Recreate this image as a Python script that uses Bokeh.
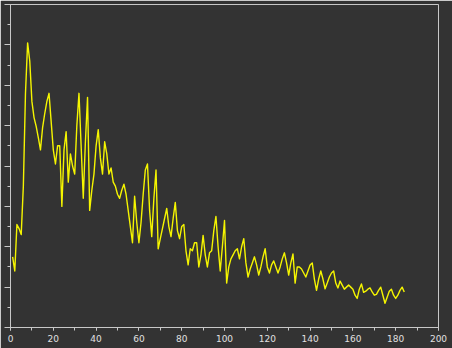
from bokeh.plotting import figure
from bokeh.embed import file_html
from bokeh.resources import INLINE
from bokeh.models import Range1d, SingleIntervalTicker, CustomJSTickFormatter

# sample positions (x) and signal values (y)
xs = list(range(1, 185))
ys = [
    1.75, 1.4, 2.55, 2.45, 2.3, 3.5, 5.8, 7.05, 6.6, 5.6,
    5.2, 4.98, 4.7, 4.4, 4.95, 5.3, 5.6, 5.8, 5.1, 4.4,
    4.05, 4.5, 4.5, 3.0, 4.4, 4.85, 3.6, 4.3, 4.0, 3.8,
    5.0, 5.8, 4.5, 3.2, 4.6, 5.7, 2.9, 3.4, 3.8, 4.5,
    4.9, 4.2, 3.8, 4.6, 4.3, 3.8, 3.95, 3.6, 3.5, 3.3,
    3.2, 3.4, 3.55, 3.3, 2.9, 2.5, 2.1, 3.25, 2.6, 2.1,
    2.6, 3.3, 3.9, 4.05, 2.9, 2.25, 3.2, 3.9, 1.95, 2.2,
    2.45, 2.7, 2.95, 2.5, 2.25, 2.7, 3.1, 2.4, 2.2, 2.5,
    2.55, 1.9, 1.55, 1.95, 1.9, 2.1, 2.1, 1.5, 1.8, 2.28,
    1.8, 1.5, 1.85, 1.9, 2.4, 2.75, 2.0, 1.4, 2.0, 2.65,
    1.1, 1.5, 1.7, 1.8, 1.9, 1.95, 1.7, 2.0, 2.2, 1.6,
    1.25, 1.45, 1.6, 1.75, 1.55, 1.3, 1.5, 1.75, 1.95, 1.5,
    1.35, 1.55, 1.65, 1.5, 1.35, 1.5, 1.7, 1.85, 1.6, 1.3,
    1.6, 1.82, 1.1, 1.5, 1.5, 1.45, 1.35, 1.25, 1.4, 1.55,
    1.6, 1.2, 0.92, 1.2, 1.4, 1.2, 0.96, 1.1, 1.25, 1.35,
    1.4, 1.1, 0.98, 1.15, 1.05, 0.95, 1.0, 1.05, 1.0, 0.95,
    0.8, 0.72, 0.95, 1.08, 0.87, 0.9, 0.95, 0.98, 0.88, 0.8,
    0.82, 0.92, 1.0, 0.8, 0.6, 0.75, 0.9, 0.95, 0.8, 0.72,
    0.8, 0.92, 1.0, 0.88,
]

BG = "#333333"
AX = "#c8c8c8"

p = figure(width=452, height=348, output_backend="svg", toolbar_location=None,
           x_range=Range1d(0, 200), y_range=Range1d(0, 8),
           min_border_left=10, min_border_right=14, min_border_top=4, min_border_bottom=21)
p.background_fill_color = BG
p.border_fill_color = BG
p.outline_line_color = AX
p.outline_line_width = 1
p.grid.visible = False

p.xaxis.ticker = SingleIntervalTicker(interval=20, num_minor_ticks=2)
p.yaxis.ticker = SingleIntervalTicker(interval=1, num_minor_ticks=2)
for ax in (p.xaxis[0], p.yaxis[0]):
    ax.axis_line_color = AX
    ax.major_tick_line_color = AX
    ax.minor_tick_line_color = AX
    ax.major_tick_in = 0
    ax.minor_tick_in = 0
p.xaxis.major_tick_out = 3
p.xaxis.minor_tick_out = 3
p.xaxis.major_label_standoff = 4
p.xaxis.major_label_text_color = "#e0e0e0"
p.xaxis.major_label_text_font = "DejaVu Sans"
p.xaxis.major_label_text_font_size = "9px"

p.yaxis.major_tick_out = 6
p.yaxis.minor_tick_out = 3
p.yaxis.major_label_standoff = 0
p.yaxis.formatter = CustomJSTickFormatter(code="return ''")

p.line(xs, ys, line_color="#f5f500", line_width=1.4, line_join="round")

open("out.html", "w").write(file_html(p, INLINE))
